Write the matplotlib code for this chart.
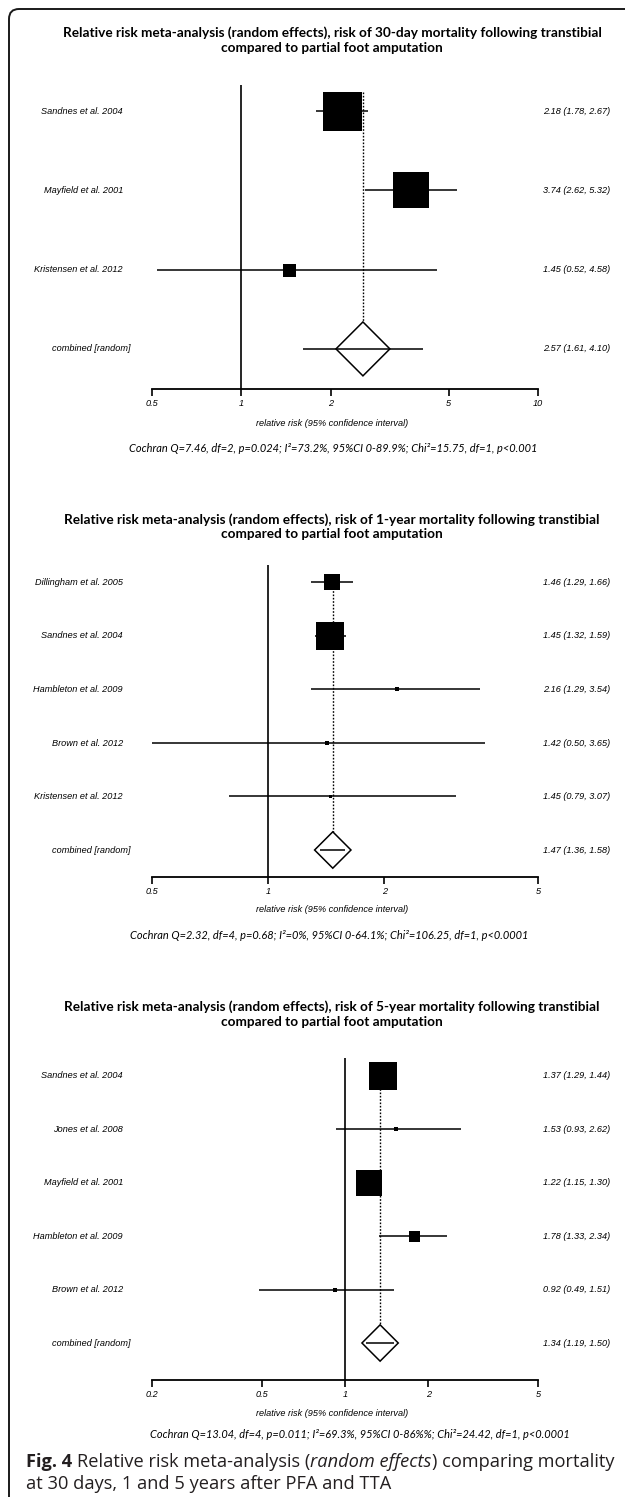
import numpy as np
import matplotlib
matplotlib.use('Agg')
import matplotlib.pyplot as plt
from matplotlib.path import Path
from matplotlib.patches import PathPatch
from matplotlib.ticker import NullLocator

# ---------------- data ----------------
# 30-day mortality
d30_study = ['Sandnes et al. 2004', 'Mayfield et al. 2001', 'Kristensen et al. 2012']
d30_rr = [2.18, 3.74, 1.45]
d30_lo = [1.78, 2.62, 0.52]
d30_hi = [2.67, 5.32, 4.58]
d30_pool = [2.57, 1.61, 4.10]
d30_ticks = [0.5, 1, 2, 5, 10]
d30_ticklabels = ['0.5', '1', '2', '5', '10']
d30_stats = 'Cochran Q=7.46, df=2, p=0.024; I²=73.2%, 95%CI 0-89.9%; Chi²=15.75, df=1, p<0.001'

# 1-year mortality
y1_study = ['Dillingham et al. 2005', 'Sandnes et al. 2004', 'Hambleton et al. 2009',
            'Brown et al. 2012', 'Kristensen et al. 2012']
y1_rr = [1.46, 1.45, 2.16, 1.42, 1.45]
y1_lo = [1.29, 1.32, 1.29, 0.50, 0.79]
y1_hi = [1.66, 1.59, 3.54, 3.65, 3.07]
y1_pool = [1.47, 1.36, 1.58]
y1_ticks = [0.5, 1, 2, 5]
y1_ticklabels = ['0.5', '1', '2', '5']
y1_stats = 'Cochran Q=2.32, df=4, p=0.68; I²=0%, 95%CI 0-64.1%; Chi²=106.25, df=1, p<0.0001'

# 5-year mortality
y5_study = ['Sandnes et al. 2004', 'Jones et al. 2008', 'Mayfield et al. 2001',
            'Hambleton et al. 2009', 'Brown et al. 2012']
y5_rr = [1.37, 1.53, 1.22, 1.78, 0.92]
y5_lo = [1.29, 0.93, 1.15, 1.33, 0.49]
y5_hi = [1.44, 2.62, 1.30, 2.34, 1.51]
y5_pool = [1.34, 1.19, 1.50]
y5_ticks = [0.2, 0.5, 1, 2, 5]
y5_ticklabels = ['0.2', '0.5', '1', '2', '5']
y5_stats = 'Cochran Q=13.04, df=4, p=0.011; I²=69.3%, 95%CI 0-86%%; Chi²=24.42, df=1, p<0.0001'

title_tmpl = ('Relative risk meta-analysis (random effects), risk of {} mortality following transtibial\n'
              'compared to partial foot amputation')

# ---------------- layout / style ----------------
W, H = 625, 1497
fig = plt.figure(figsize=(W / 100, H / 100), dpi=100)
fig.patch.set_facecolor('white')
rend = fig.canvas.get_renderer()

NARROW = ['Liberation Sans Narrow', 'Liberation Sans', 'DejaVu Sans']
CAL = ['Lato', 'DejaVu Sans']
CAP = ['Open Sans', 'DejaVu Sans']
PX = 0.72  # points per pixel


def fx(x):
    return x / W


def fy(y):
    return 1 - y / H


def size_for(text, target, **kw):
    t = fig.text(0, 0, text, fontsize=10, **kw)
    w = t.get_window_extent(rend).width
    t.remove()
    return 10 * target / w


fs_small = size_for('Kristensen et al. 2012', 89, family=NARROW, style='italic')
fs_title = size_for(title_tmpl.format('30-day').split('\n')[0], 536, family=CAL, weight='bold')
fs_stats = size_for(d30_stats, 406, family=CAL, style='italic')

AX_X0, AX_X1 = 152, 538


def forest(study, rr, lo, hi, pool, ticks, ticklabels, stats, period,
           sq, first, spacing, axis_y, title_y, xlab_y, stats_y, stats_x):
    n = len(study)
    top = first - spacing
    ax = fig.add_axes([fx(AX_X0), fy(axis_y), fx(AX_X1 - AX_X0), (axis_y - top) / H])
    ax.set_xscale('log')
    ax.set_xlim(ticks[0], ticks[-1])
    ybot = (axis_y - first) / spacing
    ax.set_ylim(ybot, -1)
    ax.patch.set_alpha(0)
    for s in ['top', 'left', 'right']:
        ax.spines[s].set_visible(False)
    ax.spines['bottom'].set_linewidth(1.3)
    ax.set_yticks([])
    ax.set_xticks(ticks)
    ax.set_xticklabels(ticklabels, family=NARROW, style='italic', fontsize=fs_small)
    ax.xaxis.set_minor_locator(NullLocator())
    ax.tick_params(axis='x', direction='out', length=5, width=1.2, pad=2)

    rows = np.arange(n)
    # reference line at 1
    ax.vlines(1, -0.33, ybot, color='black', lw=1.2, clip_on=False)
    # pooled estimate dotted line
    hs = 0.34
    ax.vlines(pool[0], -sq[0] / 2 / spacing, n - hs, color='black', lw=1.0,
              linestyles=(0, (1.2, 1.2)))
    # study CIs and squares
    ax.hlines(rows, lo, hi, color='black', lw=1.1, zorder=3)
    for i in range(n):
        ax.plot(rr[i], i, marker='s', ms=sq[i] * PX, color='black', mew=0, zorder=4)
    # pooled diamond
    dec_per_px = np.log10(ticks[-1] / ticks[0]) / (AX_X1 - AX_X0)
    hw = 10 ** (hs * spacing * dec_per_px)
    c = pool[0]
    ax.fill([c / hw, c, c * hw, c, c / hw], [n, n - hs, n, n + hs, n],
            facecolor='white', edgecolor='black', lw=1.1, zorder=3)
    ax.hlines(n, pool[1], pool[2], color='black', lw=1.1, zorder=4)

    # row labels and values
    labels = study + ['combined [random]']
    vals = list(zip(rr, lo, hi)) + [tuple(pool)]
    for i, (lab, v) in enumerate(zip(labels, vals)):
        y = first + i * spacing
        xr = 131 if i == n else 123
        fig.text(fx(xr), fy(y), lab, ha='right', va='center', family=NARROW,
                 style='italic', fontsize=fs_small)
        fig.text(fx(610), fy(y), '{:.2f} ({:.2f}, {:.2f})'.format(*v), ha='right',
                 va='center', family=NARROW, style='italic', fontsize=fs_small)

    fig.text(fx(332), fy(title_y), title_tmpl.format(period), ha='center', va='center',
             family=CAL, weight='bold', fontsize=fs_title, linespacing=1.25)
    fig.text(fx(332), fy(xlab_y), 'relative risk (95% confidence interval)', ha='center',
             va='center', family=NARROW, style='italic', fontsize=fs_small)
    fig.text(fx(stats_x), fy(stats_y), stats, ha='center', va='center', family=CAL,
             style='italic', fontsize=fs_stats)


forest(d30_study, d30_rr, d30_lo, d30_hi, d30_pool, d30_ticks, d30_ticklabels, d30_stats,
       '30-day', [39, 36, 13], 111, 79.3, 389, 40, 424, 448, 333)
forest(y1_study, y1_rr, y1_lo, y1_hi, y1_pool, y1_ticks, y1_ticklabels, y1_stats,
       '1-year', [16, 28, 5, 4, 3], 582.5, 53.5, 877, 526.5, 909, 936, 329)
forest(y5_study, y5_rr, y5_lo, y5_hi, y5_pool, y5_ticks, y5_ticklabels, y5_stats,
       '5-year', [28, 5, 27, 11, 4], 1076, 53.4, 1380, 1014, 1414, 1435, 360)

# ---------------- frame ----------------
verts = [(9, H), (9, 19), (9, 9), (19, 9), (W, 9)]
codes = [Path.MOVETO, Path.LINETO, Path.CURVE3, Path.CURVE3, Path.LINETO]
frame = Path([(fx(x), fy(y)) for x, y in verts], codes)
fig.patches.append(PathPatch(frame, transform=fig.transFigure, fill=False,
                             edgecolor='#1a1a1a', lw=1.4))

# ---------------- caption ----------------
cap_col = '#231f20'


def runs(x, y, parts, fs, draw=True):
    x0 = x
    for txt, kw in parts:
        if txt == ' ':
            a = fig.text(0, 0, 'x x', family=CAP, fontsize=fs)
            b = fig.text(0, 0, 'xx', family=CAP, fontsize=fs)
            x += a.get_window_extent(rend).width - b.get_window_extent(rend).width
            a.remove()
            b.remove()
            continue
        t = fig.text(fx(x), fy(y), txt, ha='left', va='center', family=CAP,
                     fontsize=fs, color=cap_col, **kw)
        x += t.get_window_extent(rend).width
        if not draw:
            t.remove()
    return x - x0


cap1 = [('Fig. 4', {'weight': 'bold'}), (' ', {}),
        ('Relative risk meta-analysis (', {}), ('random effects', {'style': 'italic'}),
        (') comparing mortality', {})]
cap2 = [('at 30 days, 1 and 5 years after PFA and TTA', {})]
w10 = runs(0, 0, cap1, 10, draw=False)
fs_cap = 10 * 590 / w10
runs(26, 1462, cap1, fs_cap)
runs(26, 1484, cap2, fs_cap)

fig.savefig('out.png', dpi=100, facecolor='white')
